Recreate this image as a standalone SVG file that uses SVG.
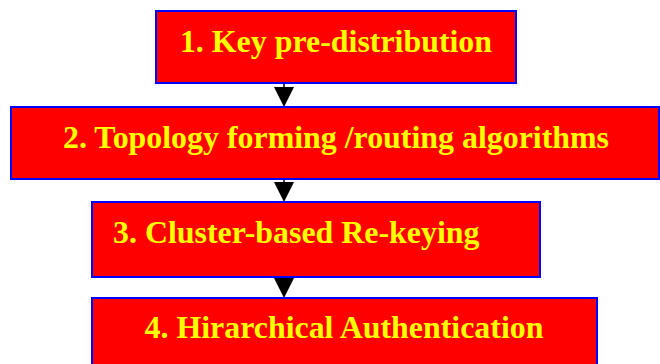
<svg xmlns="http://www.w3.org/2000/svg" width="660" height="364" viewBox="0 0 660 364">
<style>
.box{fill:#ff0000;stroke:#0000ff;stroke-width:2}
.lbl{font-family:"Liberation Serif","Times New Roman",serif;font-weight:bold;font-size:31.9px;fill:#ffff00}
.conn{stroke:#000;stroke-width:1.5;fill:none}
.head{fill:#000}
</style>
<g id="connectors">
<line class="conn" x1="284" y1="83" x2="284" y2="90"/>
<path class="head" d="M274,87 L294,87 L284,107 Z"/>
<line class="conn" x1="284" y1="179" x2="284" y2="185"/>
<path class="head" d="M274,182 L294,182 L284,202 Z"/>
<line class="conn" x1="284" y1="277" x2="284" y2="282"/>
<path class="head" d="M274,278 L294,278 L284,298 Z"/>
</g>
<g id="n1">
<rect class="box" x="156" y="11" width="360" height="72"/>
<text class="lbl" x="336" y="52" text-anchor="middle">1. Key pre-distribution</text>
</g>
<g id="n2">
<rect class="box" x="11" y="107" width="648" height="72"/>
<text class="lbl" x="336" y="148" text-anchor="middle">2. Topology forming /routing algorithms</text>
</g>
<g id="n3">
<rect class="box" x="92" y="202" width="448" height="75"/>
<text class="lbl" x="113" y="243">3. Cluster-based Re-keying</text>
</g>
<g id="n4">
<rect class="box" x="92" y="298" width="505" height="80"/>
<text class="lbl" x="344" y="338" text-anchor="middle">4. Hirarchical Authentication</text>
</g>
</svg>
